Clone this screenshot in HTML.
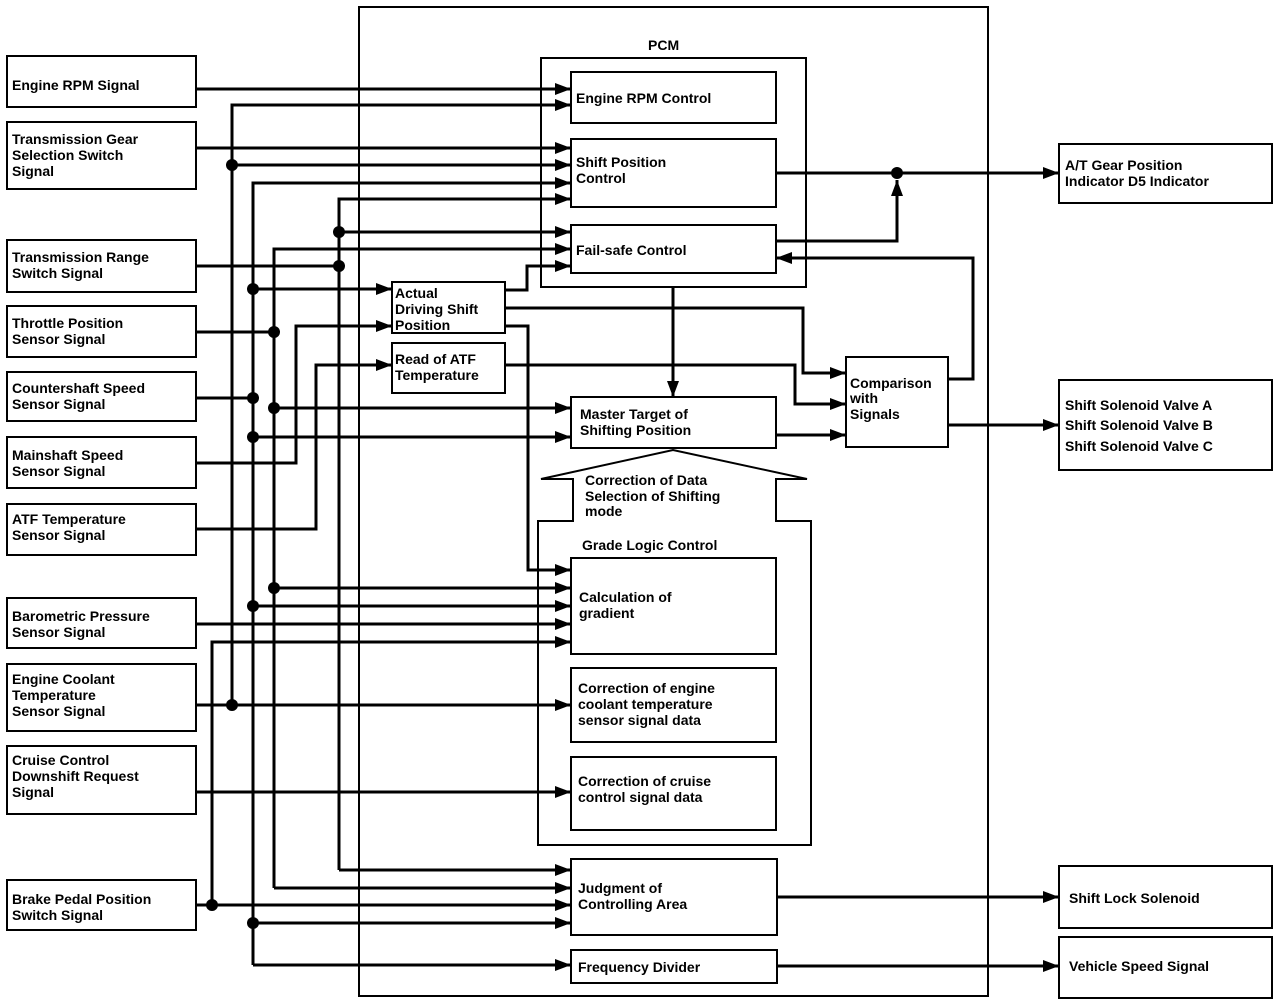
<!DOCTYPE html>
<html><head><meta charset="utf-8"><style>
html,body{margin:0;padding:0;background:#fff;}
svg{display:block;}
text{font-family:"Liberation Sans",Arial,sans-serif;font-weight:bold;font-size:14px;fill:#000;}
</style></head><body>
<svg width="1280" height="1002" viewBox="0 0 1280 1002" xmlns="http://www.w3.org/2000/svg">
<defs>
<marker id="a" markerUnits="userSpaceOnUse" markerWidth="18" markerHeight="14" refX="16" refY="7" orient="auto">
<path d="M0,1 L16,7 L0,13 Z" fill="#000"/></marker>
</defs>
<g fill="none" stroke="#000" stroke-width="2">
<!-- PCM frame -->
<rect x="359" y="7" width="629" height="989"/>
<rect x="541" y="58" width="265" height="229"/>
<path d="M538,845 V521 H573 V479 H541 L673,450 L807,479 H776 V521 H811 V845 Z"/>
<!-- left boxes -->
<rect x="7" y="56" width="189" height="51"/>
<rect x="7" y="122" width="189" height="67"/>
<rect x="7" y="240" width="189" height="52"/>
<rect x="7" y="306" width="189" height="51"/>
<rect x="7" y="372" width="189" height="49"/>
<rect x="7" y="437" width="189" height="51"/>
<rect x="7" y="504" width="189" height="51"/>
<rect x="7" y="598" width="189" height="50"/>
<rect x="7" y="664" width="189" height="67"/>
<rect x="7" y="746" width="189" height="68"/>
<rect x="7" y="880" width="189" height="50"/>
<!-- inner boxes -->
<rect x="571" y="72" width="205" height="51"/>
<rect x="571" y="139" width="205" height="68"/>
<rect x="571" y="225" width="205" height="48"/>
<rect x="392" y="282" width="113" height="51"/>
<rect x="392" y="343" width="113" height="50"/>
<rect x="571" y="397" width="205" height="51"/>
<rect x="571" y="558" width="205" height="96"/>
<rect x="571" y="668" width="205" height="74"/>
<rect x="571" y="757" width="205" height="73"/>
<rect x="571" y="859" width="206" height="76"/>
<rect x="571" y="950" width="206" height="33"/>
<rect x="846" y="357" width="102" height="90"/>
<!-- right boxes -->
<rect x="1059" y="144" width="213" height="59"/>
<rect x="1059" y="380" width="213" height="90"/>
<rect x="1059" y="866" width="213" height="62"/>
<rect x="1059" y="937" width="213" height="61"/>
</g>
<g fill="none" stroke="#000" stroke-width="3" marker-end="url(#a)">
<path d="M196,89 H571"/>
<path d="M232,705 V105 H571"/>
<path d="M196,148 H571"/>
<path d="M232,165 H571"/>
<path d="M253,965 V183 H571"/>
<path d="M339,870 V199 H571"/>
<path d="M339,232 H571"/>
<path d="M274,888 V249 H571"/>
<path d="M505,290 H527 V266 H571"/>
<path d="M253,289 H392"/>
<path d="M196,463 H296 V326 H392"/>
<path d="M196,529 H316 V365 H392"/>
<path d="M274,408 H571"/>
<path d="M253,437 H571"/>
<path d="M505,326 H528 V570 H571"/>
<path d="M274,588 H571"/>
<path d="M253,606 H571"/>
<path d="M196,624 H571"/>
<path d="M212,905 V642 H571"/>
<path d="M196,705 H571"/>
<path d="M196,792 H571"/>
<path d="M339,870 H571"/>
<path d="M274,888 H571"/>
<path d="M196,905 H571"/>
<path d="M253,923 H571"/>
<path d="M253,965 H571"/>
<path d="M776,173 H1059"/>
<path d="M776,241 H897 V180"/>
<path d="M948,379 H973 V258 H776"/>
<path d="M673,287 V397"/>
<path d="M505,308 H803 V373 H846"/>
<path d="M505,365 H795 V404 H846"/>
<path d="M776,435 H846"/>
<path d="M948,425 H1059"/>
<path d="M776,897 H1059"/>
<path d="M776,966 H1059"/>
</g>
<g stroke="none" fill="#000">
<path d="M196,266 H339 M196,332 H274 M196,398 H253" stroke="#000" stroke-width="3"/>
<circle cx="232" cy="165" r="6"/><circle cx="232" cy="705" r="6"/>
<circle cx="339" cy="232" r="6"/><circle cx="339" cy="266" r="6"/>
<circle cx="253" cy="289" r="6"/><circle cx="274" cy="332" r="6"/>
<circle cx="253" cy="398" r="6"/><circle cx="274" cy="408" r="6"/>
<circle cx="253" cy="437" r="6"/><circle cx="274" cy="588" r="6"/>
<circle cx="253" cy="606" r="6"/><circle cx="212" cy="905" r="6"/>
<circle cx="253" cy="923" r="6"/><circle cx="897" cy="173" r="6"/>
</g>
<text x="12" y="90">Engine RPM Signal</text>
<text x="12" y="144">Transmission Gear</text><text x="12" y="160">Selection Switch</text><text x="12" y="176">Signal</text>
<text x="12" y="262">Transmission Range</text><text x="12" y="278">Switch Signal</text>
<text x="12" y="328">Throttle Position</text><text x="12" y="344">Sensor Signal</text>
<text x="12" y="393">Countershaft Speed</text><text x="12" y="409">Sensor Signal</text>
<text x="12" y="460">Mainshaft Speed</text><text x="12" y="476">Sensor Signal</text>
<text x="12" y="524">ATF Temperature</text><text x="12" y="540">Sensor Signal</text>
<text x="12" y="621">Barometric Pressure</text><text x="12" y="637">Sensor Signal</text>
<text x="12" y="684">Engine Coolant</text><text x="12" y="700">Temperature</text><text x="12" y="716">Sensor Signal</text>
<text x="12" y="765">Cruise Control</text><text x="12" y="781">Downshift Request</text><text x="12" y="797">Signal</text>
<text x="12" y="904">Brake Pedal Position</text><text x="12" y="920">Switch Signal</text>
<text x="648" y="50">PCM</text>
<text x="576" y="103">Engine RPM Control</text>
<text x="576" y="167">Shift Position</text><text x="576" y="183">Control</text>
<text x="576" y="255">Fail-safe Control</text>
<text x="395" y="298">Actual</text><text x="395" y="314">Driving Shift</text><text x="395" y="330">Position</text>
<text x="395" y="364">Read of ATF</text><text x="395" y="380">Temperature</text>
<text x="580" y="419">Master Target of</text><text x="580" y="435">Shifting Position</text>
<text x="585" y="485">Correction of Data</text><text x="585" y="501">Selection of Shifting</text><text x="585" y="516">mode</text>
<text x="582" y="550">Grade Logic Control</text>
<text x="579" y="602">Calculation of</text><text x="579" y="618">gradient</text>
<text x="578" y="693">Correction of engine</text><text x="578" y="709">coolant temperature</text><text x="578" y="725">sensor signal data</text>
<text x="578" y="786">Correction of cruise</text><text x="578" y="802">control signal data</text>
<text x="578" y="893">Judgment of</text><text x="578" y="909">Controlling Area</text>
<text x="578" y="972">Frequency Divider</text>
<text x="850" y="388">Comparison</text><text x="850" y="403">with</text><text x="850" y="419">Signals</text>
<text x="1065" y="170">A/T Gear Position</text><text x="1065" y="186">Indicator D5 Indicator</text>
<text x="1065" y="410">Shift Solenoid Valve A</text><text x="1065" y="430">Shift Solenoid Valve B</text><text x="1065" y="451">Shift Solenoid Valve C</text>
<text x="1069" y="903">Shift Lock Solenoid</text>
<text x="1069" y="971">Vehicle Speed Signal</text>
</svg>
</body></html>
